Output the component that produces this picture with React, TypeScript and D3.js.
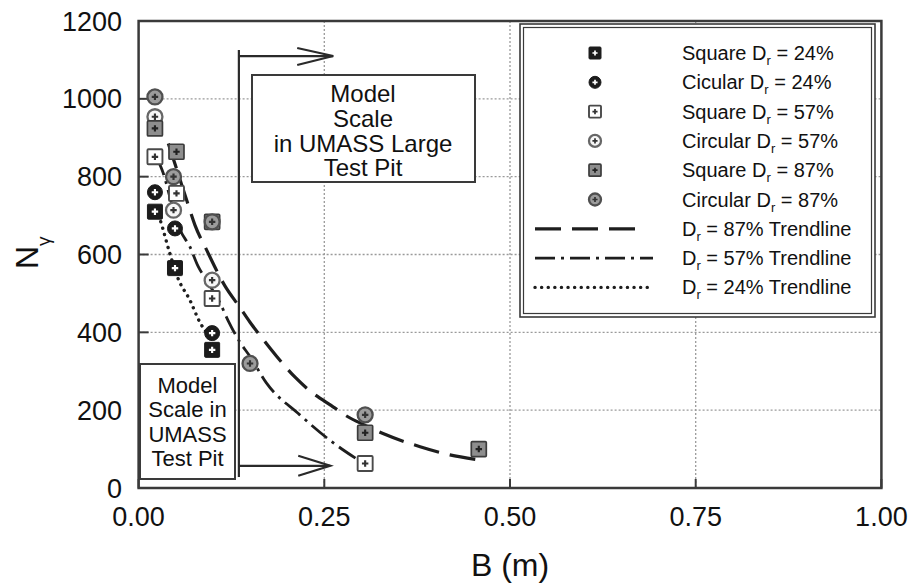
import React from "react";
import * as d3 from "d3";

// ---- data: footing width B (m) vs bearing capacity factor N_gamma ----
const xTicks = [0, 0.25, 0.5, 0.75, 1.0];
const yTicks = [0, 200, 400, 600, 800, 1000, 1200];

const squareDr24: [number, number][] = [
  [0.022, 710],
  [0.049, 565],
  [0.099, 355],
];
const circularDr24: [number, number][] = [
  [0.022, 760],
  [0.049, 667],
  [0.099, 398],
];
const squareDr57: [number, number][] = [
  [0.022, 851],
  [0.051, 757],
  [0.099, 487],
  [0.305, 63],
];
const circularDr57: [number, number][] = [
  [0.022, 954],
  [0.047, 714],
  [0.099, 534],
];
const squareDr87: [number, number][] = [
  [0.022, 924],
  [0.051, 864],
  [0.099, 684],
  [0.305, 142],
  [0.458, 100],
];
const circularDr87: [number, number][] = [
  [0.022, 1005],
  [0.047, 800],
  [0.099, 684],
  [0.15, 320],
  [0.305, 188],
];

const trendDr87: [number, number][] = [
  [0.04, 885], [0.052, 815], [0.065, 738], [0.076, 675], [0.092, 610],
  [0.116, 520], [0.136, 465], [0.15, 426], [0.168, 381], [0.186, 338],
  [0.211, 284], [0.226, 257], [0.264, 206], [0.28, 185], [0.305, 161],
  [0.329, 140], [0.379, 106], [0.419, 85], [0.455, 73],
];
const trendDr57: [number, number][] = [
  [0.024, 851], [0.033, 810], [0.044, 735], [0.056, 663], [0.069, 620],
  [0.08, 570], [0.092, 532], [0.11, 474], [0.121, 428], [0.136, 376],
  [0.15, 338], [0.172, 270], [0.217, 188], [0.26, 119], [0.294, 74],
];
const trendDr24: [number, number][] = [
  [0.027, 700], [0.029, 689], [0.042, 603], [0.053, 539], [0.069, 483],
  [0.083, 424], [0.092, 398],
];

// legend rows: marker kind or line kind, label parts around the subscript "r"
type Kind = "sq24" | "ci24" | "sq57" | "ci57" | "sq87" | "ci87" | "l87" | "l57" | "l24";
const legendKinds: Kind[] = ["sq24", "ci24", "sq57", "ci57", "sq87", "ci87", "l87", "l57", "l24"];
const legendBefore = [
  "Square D", "Cicular D", "Square D", "Circular D", "Square D", "Circular D", "D", "D", "D",
];
const legendAfter = [
  " = 24%", " = 24%", " = 57%", " = 57%", " = 87%", " = 87%",
  " = 87% Trendline", " = 57% Trendline", " = 24% Trendline",
];

const largePitLines = ["Model", "Scale", "in UMASS Large", "Test Pit"];
const smallPitLines = ["Model", "Scale in", "UMASS", "Test Pit"];

// ---- layout ----
const W = 917;
const H = 584;
const FONT = "'Liberation Sans', Arial, Helvetica, sans-serif";
const x = d3.scaleLinear().domain([0, 1]).range([138.6, 881.4]);
const y = d3.scaleLinear().domain([0, 1200]).range([488, 21]);

const lineStyles: Record<string, { dash: string; width: number; cap: "butt" | "round" }> = {
  l87: { dash: "26 11", width: 3.2, cap: "butt" },
  l57: { dash: "20 6 3 6", width: 2.8, cap: "butt" },
  l24: { dash: "0.1 6.5", width: 3.4, cap: "round" },
};

const crossPath = d3.symbol(d3.symbolCross, 20)() as string;

function Marker({ kind, cx, cy, s }: { kind: Kind; cx: number; cy: number; s: number }) {
  const h = s / 2;
  const square = kind.startsWith("sq");
  let fill = "#1c1c1c";
  let stroke = "#1c1c1c";
  let sw = 1;
  let inner = "#ffffff";
  if (kind === "sq57") { fill = "#ffffff"; stroke = "#4a4a4a"; sw = 1.9; inner = "#333"; }
  if (kind === "ci57") { fill = "#f6f6f6"; stroke = "#676767"; sw = 2.3; inner = "#333"; }
  if (kind === "sq87") { fill = "#8e8e8e"; stroke = "#3c3c3c"; sw = 1.7; inner = "#222"; }
  if (kind === "ci87") { fill = "#9c9c9c"; stroke = "#505050"; sw = 2.3; inner = "#333"; }
  return (
    <g transform={`translate(${cx},${cy})`}>
      {square ? (
        <rect x={-h} y={-h} width={s} height={s} rx={1} fill={fill} stroke={stroke} strokeWidth={sw} />
      ) : (
        <circle r={h} fill={fill} stroke={stroke} strokeWidth={sw} />
      )}
      <path d={crossPath} fill={inner} transform={`scale(${s / 14})`} />
    </g>
  );
}

export default function App() {
  const line = d3
    .line<[number, number]>()
    .x((d) => x(d[0]))
    .y((d) => y(d[1]))
    .curve(d3.curveMonotoneX);

  const series: [Kind, [number, number][]][] = [
    ["sq24", squareDr24],
    ["ci24", circularDr24],
    ["sq57", squareDr57],
    ["ci57", circularDr57],
    ["sq87", squareDr87],
    ["ci87", circularDr87],
  ];
  const trends: [Kind, [number, number][]][] = [
    ["l87", trendDr87],
    ["l57", trendDr57],
    ["l24", trendDr24],
  ];

  const [x0, x1] = x.range();
  const [y0, y1] = y.range();

  // annotation geometry (data units)
  const pitB = 0.135;
  const upperArrowN = 1110;
  const upperTipB = 0.262;
  const lowerArrowN = 57;
  const lowerTipB = 0.258;

  const legX = 520, legY = 24, legW = 355, legH = 293;
  const rowY = (i: number) => 53 + i * 29.3;

  return (
    <svg
      width={W}
      height={H}
      viewBox={`0 0 ${W} ${H}`}
      style={{ position: "absolute", left: 0, top: 0, background: "#fff" }}
      fontFamily={FONT}
    >
      <rect width={W} height={H} fill="#fff" />

      {/* grid */}
      <g stroke="#9a9a9a" strokeWidth={1.3} strokeDasharray="2 2">
        {xTicks.filter((t) => t > 0 && t < 1).map((t) => (
          <line key={`gx${t}`} x1={x(t)} x2={x(t)} y1={y1} y2={y0} />
        ))}
        {yTicks.filter((t) => t > 0 && t < 1200).map((t) => (
          <line key={`gy${t}`} x1={x0} x2={x1} y1={y(t)} y2={y(t)} />
        ))}
      </g>

      {/* inner ticks */}
      <g stroke="#3a3a3a" strokeWidth={2}>
        {yTicks.map((t) => (
          <line key={`ty${t}`} x1={x0} x2={x0 + 10} y1={y(t)} y2={y(t)} />
        ))}
        {xTicks.map((t) => (
          <line key={`tx${t}`} x1={x(t)} x2={x(t)} y1={y0} y2={y0 - 9} />
        ))}
      </g>

      {/* axis frame */}
      <rect x={x0} y={y1} width={x1 - x0} height={y0 - y1} fill="none" stroke="#3a3a3a" strokeWidth={2.5} />

      {/* tick labels */}
      <g fontSize={27} fill="#111">
        {yTicks.map((t) => (
          <text key={`ly${t}`} x={122} y={y(t) + 9.5} textAnchor="end">
            {t}
          </text>
        ))}
        {xTicks.map((t) => (
          <text key={`lx${t}`} x={x(t)} y={526} textAnchor="middle">
            {t.toFixed(2)}
          </text>
        ))}
      </g>

      {/* axis titles */}
      <text x={(x0 + x1) / 2} y={576} textAnchor="middle" fontSize={32} fill="#111">
        B (m)
      </text>
      <text transform="translate(38,269) rotate(-90)" fontSize={32} fill="#111">
        N
        <tspan fontSize={19} dy={12}>
          γ
        </tspan>
      </text>

      {/* trendlines */}
      {trends.map(([k, pts]) => (
        <path
          key={k}
          d={line(pts) as string}
          fill="none"
          stroke="#1e1e1e"
          strokeWidth={lineStyles[k].width}
          strokeDasharray={lineStyles[k].dash}
          strokeLinecap={lineStyles[k].cap}
        />
      ))}

      {/* data points */}
      {series.map(([k, pts]) =>
        pts.map((p, i) => <Marker key={`${k}${i}`} kind={k} cx={x(p[0])} cy={y(p[1])} s={15} />)
      )}

      {/* large test pit annotation */}
      <g stroke="#2a2a2a" strokeWidth={2.2} fill="none">
        <line x1={x(pitB)} x2={x(pitB)} y1={50} y2={477} />
        <line x1={x(pitB)} x2={x(upperTipB)} y1={y(upperArrowN)} y2={y(upperArrowN)} />
        <polyline
          points={`${x(upperTipB) - 36},${y(upperArrowN) - 8} ${x(upperTipB)},${y(upperArrowN)} ${x(upperTipB) - 36},${y(upperArrowN) + 9}`}
        />
        <line x1={x(pitB)} x2={x(lowerTipB)} y1={y(lowerArrowN)} y2={y(lowerArrowN)} />
        <polyline
          points={`${x(lowerTipB) - 32},${y(lowerArrowN) - 10} ${x(lowerTipB)},${y(lowerArrowN)} ${x(lowerTipB) - 32},${y(lowerArrowN) + 10}`}
        />
      </g>
      <rect x={252} y={75} width={223} height={107} fill="#fff" stroke="#3a3a3a" strokeWidth={2} />
      <g fontSize={24} fill="#111" textAnchor="middle">
        {largePitLines.map((s, i) => (
          <text key={s} x={363} y={102 + i * 24.8}>
            {s}
          </text>
        ))}
      </g>

      {/* small test pit annotation */}
      <rect x={140} y={364} width={95} height={115} fill="#fff" stroke="#3a3a3a" strokeWidth={2} />
      <g fontSize={22} fill="#111" textAnchor="middle">
        {smallPitLines.map((s, i) => (
          <text key={s} x={187.5} y={392.5 + i * 24.5}>
            {s}
          </text>
        ))}
      </g>

      {/* legend */}
      <rect x={legX} y={legY} width={legW} height={legH} fill="#fff" stroke="#3a3a3a" strokeWidth={1.6} />
      <rect x={legX + 3.5} y={legY + 3.5} width={legW - 7} height={legH - 7} fill="none" stroke="#3a3a3a" strokeWidth={1.2} />
      {legendKinds.map((k, i) => {
        const cy = rowY(i);
        const isLine = k.startsWith("l");
        return (
          <g key={`leg${i}`}>
            {isLine ? (
              <line
                x1={535}
                x2={k === "l87" ? 641 : 653}
                y1={cy}
                y2={cy}
                stroke="#1e1e1e"
                strokeWidth={lineStyles[k].width}
                strokeDasharray={lineStyles[k].dash}
                strokeLinecap={lineStyles[k].cap}
              />
            ) : (
              <Marker kind={k} cx={595} cy={cy} s={12} />
            )}
            <text x={682} y={cy + 7} fontSize={20} fill="#111">
              {legendBefore[i]}
              <tspan fontSize={13} dy={5}>
                r
              </tspan>
              <tspan dy={-5}>{legendAfter[i]}</tspan>
            </text>
          </g>
        );
      })}
    </svg>
  );
}
